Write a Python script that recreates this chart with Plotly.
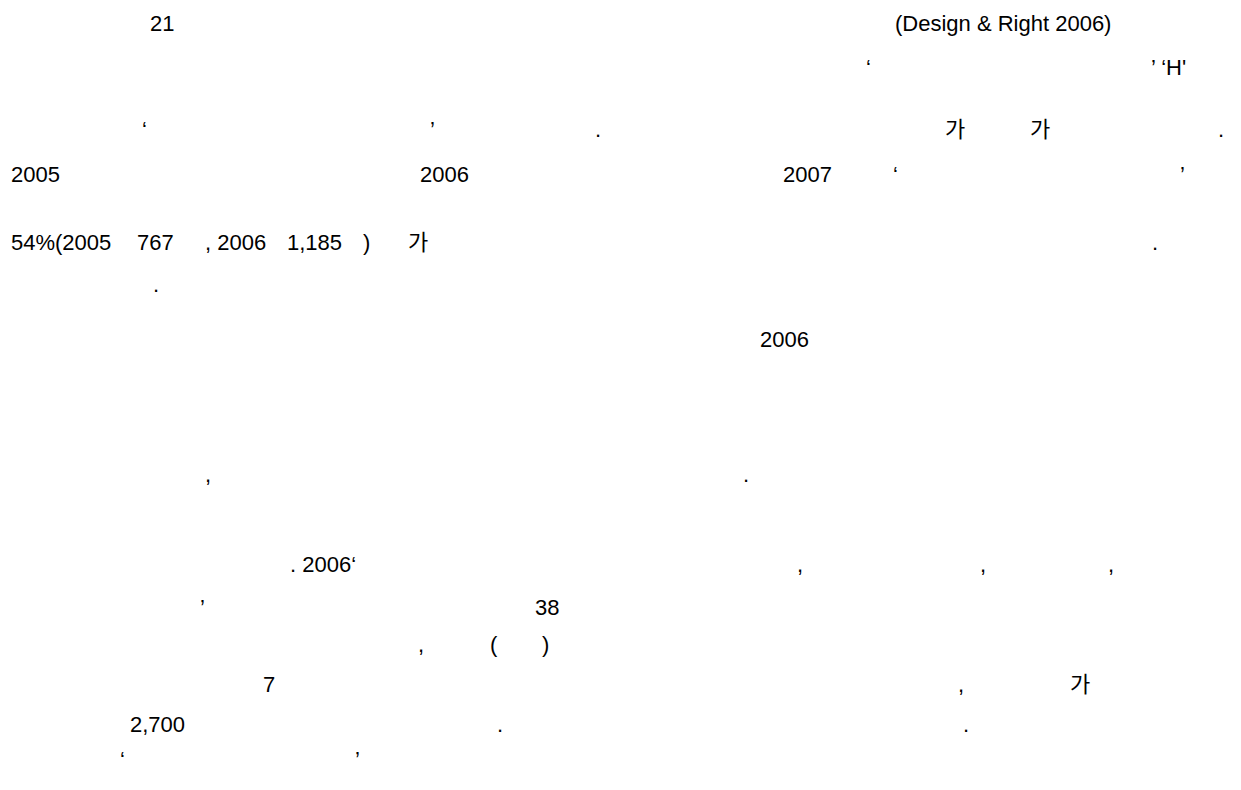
import plotly.graph_objects as go

# Text fragments of the page (content), with their line index and left position
fragments = [
    "21", "(Design & Right 2006)",
    "‘", "’ ‘H'",
    "‘", "’", ".", "가", "가", ".",
    "2005", "2006", "2007", "‘", "’",
    "54%(2005", "767", ", 2006", "1,185", ")", "가", ".",
    ".",
    "2006",
    ",", ".",
    ",",
    ". 2006‘", ",", ",", ",",
    "’", "38",
    ",", "(", ")",
    "7", ",", "가",
    "2,700", ".", ".",
    "‘", "’",
]
frag_line = [
    0, 0,
    1, 1,
    2, 2, 2, 2, 2, 2,
    3, 3, 3, 3, 3,
    4, 4, 4, 4, 4, 4, 4,
    5,
    6,
    7, 7,
    8,
    9, 9, 9, 9,
    10, 10,
    11, 11, 11,
    12, 12, 12,
    13, 13, 13,
    14, 14,
]
frag_x = [
    140, 885,
    856, 1141,
    132, 420, 585, 935, 1020, 1208,
    0.5, 410, 773, 883, 1170,
    0.5, 127, 195, 277, 353, 398, 1142,
    143,
    750,
    195, 733,
    1225,
    280, 787, 970, 1098,
    190, 525,
    408, 480, 532,
    253, 948, 1060,
    120, 487, 953,
    110, 345,
]
line_y = [15, 59, 121, 166, 234, 276, 331, 466, 526, 556, 599, 636, 676, 716, 751]

W, H = 1241, 790
fig = go.Figure()
fig.add_trace(go.Scatter(x=[0, W], y=[0, H], mode="markers",
                         marker=dict(opacity=0), hoverinfo="skip", showlegend=False))

for t, li, x in zip(fragments, frag_line, frag_x):
    fig.add_annotation(x=x, y=line_y[li], text=t, showarrow=False,
                       xanchor="left", yanchor="middle",
                       font=dict(family="Liberation Sans, Arial, Noto Sans CJK KR",
                                 size=22, color="black"))

fig.update_layout(
    width=W, height=H,
    margin=dict(l=0, r=0, t=0, b=0),
    paper_bgcolor="white", plot_bgcolor="white",
    xaxis=dict(range=[0, W], visible=False, fixedrange=True),
    yaxis=dict(range=[H, 0], visible=False, fixedrange=True),
    showlegend=False,
)
fig.write_html("out.html")
